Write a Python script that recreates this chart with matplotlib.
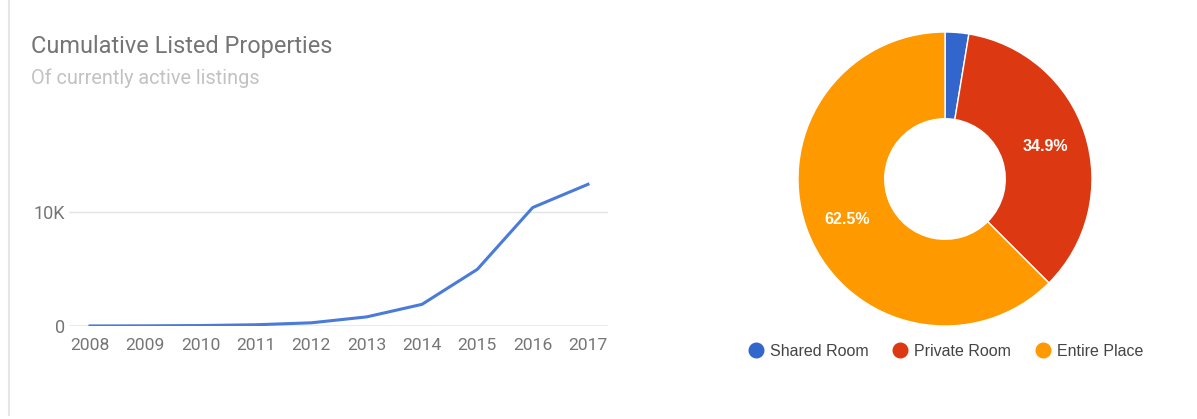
import matplotlib
matplotlib.use("Agg")
import matplotlib.pyplot as plt
from matplotlib.lines import Line2D

# Cumulative listings per year
years = [2008, 2009, 2010, 2011, 2012, 2013, 2014, 2015, 2016, 2017]
cumulative = [5, 15, 40, 110, 280, 800, 1900, 4970, 10390, 12430]
y_ticks = [0, 10000]
y_tick_labels = ["0", "10K"]

# Room type shares (%)
room_types = ["Shared Room", "Private Room", "Entire Place"]
room_share = [2.6, 34.9, 62.5]
room_colors = ["#3366CC", "#DC3912", "#FF9900"]

W, H = 1197, 419
fig = plt.figure(figsize=(W / 100, H / 100), dpi=100)
fig.patch.set_facecolor("white")


def fx(px):
    return px / W


def fy(py):
    return 1 - py / H


# card border on the left
fig.add_artist(Line2D([fx(8.5), fx(8.5)], [fy(0), fy(415)], color="#e6e6e6", lw=1.5))

# titles
fig.text(fx(31), fy(46), "Cumulative Listed Properties", fontsize=16.9, color="#757575",
         family="Roboto", va="center", ha="left")
fig.text(fx(31), fy(78), "Of currently active listings", fontsize=14.3, color="#c2c2c2",
         family="Roboto", va="center", ha="left")

# ---- line chart ----
px_per_year = (588 - 90) / 9
x_left, x_right = 69, 608
y_base, y_top = 326, 170
px_per_unit = 114 / 10000
ax = fig.add_axes([fx(x_left), fy(y_base), (x_right - x_left) / W, (y_base - y_top) / H])
ax.set_xlim(2008 - (90 - x_left) / px_per_year, 2017 + (x_right - 588) / px_per_year)
ax.set_ylim(0, (y_base - y_top) / px_per_unit)
ax.plot(years, cumulative, color="#4A7BD8", lw=2.2, solid_joinstyle="round", zorder=3)
ax.axhline(10000, color="#e4e4e4", lw=1, zorder=1)
ax.axhline(0, color="#9e9e9e", lw=1, zorder=2)
for s in ax.spines.values():
    s.set_visible(False)
ax.set_xticks(years)
ax.set_xticklabels([str(y) for y in years], family="Roboto", fontsize=12.6, color="#757575")
ax.set_yticks(y_ticks)
ax.set_yticklabels(y_tick_labels, family="Roboto", fontsize=13, color="#757575")
ax.tick_params(axis="x", length=0, pad=8.5)
ax.tick_params(axis="y", length=0, pad=3)
ax.set_facecolor("none")

# ---- donut chart ----
cx, cy, r = 945, 179, 147
pax = fig.add_axes([fx(cx - r), fy(cy + r), 2 * r / W, 2 * r / H])
wedges, _, autotexts = pax.pie(
    room_share, colors=room_colors, startangle=90, counterclock=False, radius=1,
    autopct=lambda p: f"{p:.1f}%" if p > 5 else "", pctdistance=0.72,
    wedgeprops=dict(width=0.59, edgecolor="white", linewidth=1),
    textprops=dict(color="white", fontsize=11.5, family="Liberation Sans", weight="bold"),
)
pax.set_xlim(-1, 1)
pax.set_ylim(-1, 1)
pax.set_aspect("equal")
pax.axis("off")

# legend
handles = [Line2D([], [], marker="o", ls="", markersize=10.5, markerfacecolor=c,
                  markeredgecolor=c) for c in room_colors]
fig.legend(handles, room_types, loc="center", bbox_to_anchor=(fx(946), fy(351)), ncol=3,
           frameon=False, handletextpad=0.42, columnspacing=1.55, handlelength=0.9,
           borderpad=0, borderaxespad=0,
           prop=dict(family="Liberation Sans", size=11.5), labelcolor="#444444")

fig.savefig("out.png", dpi=100, facecolor="white")
